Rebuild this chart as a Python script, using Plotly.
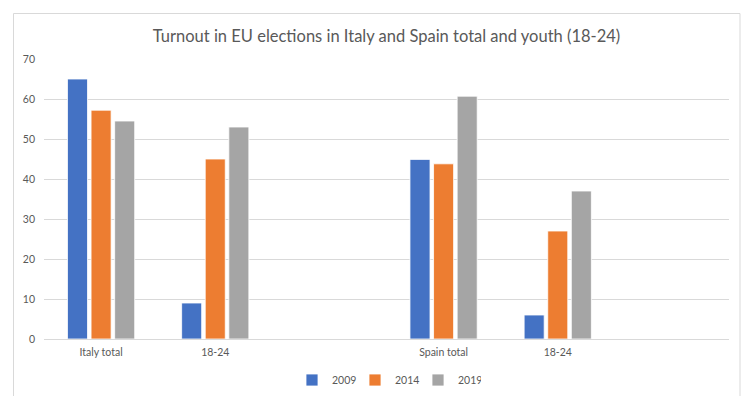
import plotly.graph_objects as go

categories = ["Italy total", "18-24", " ", "Spain total", "18-24 ", "  "]
tick_labels = ["Italy total", "18-24", "", "Spain total", "18-24", ""]
years = ["2009", "2014", "2019"]
v2009 = [65.0, 9.0, None, 44.9, 6.0, None]
v2014 = [57.2, 45.0, None, 43.8, 27.0, None]
v2019 = [54.5, 53.0, None, 60.7, 37.0, None]
colors = ["#4472C4", "#ED7D31", "#A5A5A5"]

W, H = 747, 396
L, R, T, B = 44, 18, 59, 57
pw, ph = W - L - R, H - T - B

fig = go.Figure()
for name, vals, col in zip(years, [v2009, v2014, v2019], colors):
    fig.add_trace(go.Bar(x=categories, y=vals, name=name,
                         marker=dict(color=col, line=dict(color="white", width=0.8))))

def px_x(x):
    return (x - L) / pw

def px_y(y):
    return (H - B - y) / ph

fig.update_layout(
    width=W, height=H,
    margin=dict(l=L, r=R, t=T, b=B, autoexpand=False),
    paper_bgcolor="white", plot_bgcolor="white",
    barmode="group", bargap=0.38, bargroupgap=0.15,
    title=dict(text="Turnout in EU elections in Italy and Spain total and youth (18-24)",
               x=0.5, xref="paper", xanchor="center", y=1 - 36 / H, yanchor="middle",
               font=dict(family="Lato, Open Sans, sans-serif", size=16.5, color="#595959")),
    font=dict(family="Lato, Open Sans, sans-serif", color="#595959", size=11),
    xaxis=dict(type="category", categoryorder="array", categoryarray=categories,
               tickvals=categories, ticktext=tick_labels,
               showgrid=False, showline=False, ticks="", ticklabelstandoff=5,
               tickfont=dict(size=10.5, color="#595959")),
    yaxis=dict(range=[0, 70], dtick=10, showgrid=True, gridcolor="#D9D9D9", gridwidth=1,
               zeroline=True, zerolinecolor="#D9D9D9", zerolinewidth=1,
               showline=False, ticks="", ticklabelstandoff=8,
               tickfont=dict(size=10.5, color="#595959")),
    legend=dict(orientation="h", x=0.5, xanchor="center", xref="paper",
                y=1 - 380 / H, yanchor="middle", yref="container",
                font=dict(size=10.5, color="#595959"), itemwidth=30,
                entrywidth=18, entrywidthmode="pixels",
                traceorder="normal"),
    shapes=[dict(type="rect", xref="paper", yref="paper",
                 x0=px_x(13.5), x1=px_x(740), y0=px_y(420), y1=px_y(13.5),
                 line=dict(color="#D9D9D9", width=1), fillcolor="rgba(0,0,0,0)", layer="below")],
)

fig.write_html("out.html")
